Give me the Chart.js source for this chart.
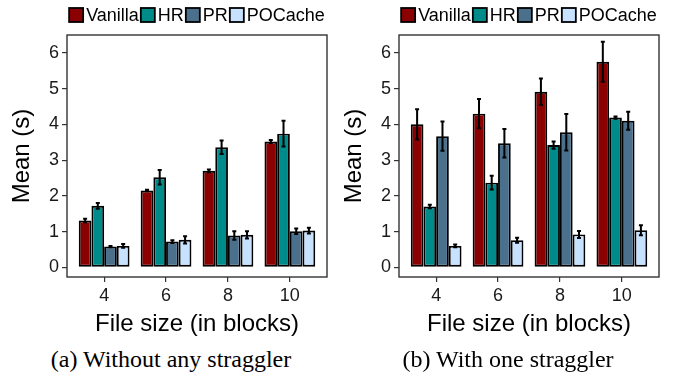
<!DOCTYPE html>
<html>
<head>
<meta charset="utf-8">
<script src="https://cdn.jsdelivr.net/npm/chart.js@4/dist/chart.umd.min.js"></script>
<style>
  html, body { margin: 0; padding: 0; background: #fff; }
  #wrap { position: relative; width: 678px; height: 383px; overflow: hidden; }
  canvas { position: absolute; top: 0; }
  .cap { position: absolute; top: 346px; font-family: "Liberation Serif", "Times New Roman", serif;
         font-size: 24px; color: #000; white-space: nowrap; transform: translateX(-50%); }
</style>
</head>
<body>
<div id="wrap">
  <canvas id="chartA" width="339" height="345" style="left:0"></canvas>
  <canvas id="chartB" width="339" height="345" style="left:332px"></canvas>
  <div class="cap" style="left:171px">(a) Without any straggler</div>
  <div class="cap" style="left:508px">(b) With one straggler</div>
</div>
<script>
const xLabels = ['4', '6', '8', '10'];
const seriesNames = ['Vanilla', 'HR', 'PR', 'POCache'];
const seriesColors = ['#8B0000', '#008B8B', '#4A708B', '#C6E2FF'];
const yTicks = [0, 1, 2, 3, 4, 5, 6];

// (a) without any straggler
const vanillaA = [1.31, 2.15, 2.70, 3.52];
const vanillaErrA = [0.05, 0.02, 0.04, 0.04];
const hrA = [1.72, 2.52, 3.36, 3.74];
const hrErrA = [0.08, 0.20, 0.19, 0.36];
const prA = [0.58, 0.72, 0.89, 1.01];
const prErrA = [0.02, 0.04, 0.12, 0.08];
const poA = [0.60, 0.77, 0.91, 1.03];
const poErrA = [0.05, 0.10, 0.10, 0.08];

// (b) with one straggler
const vanillaB = [4.00, 4.30, 4.91, 5.75];
const vanillaErrB = [0.42, 0.41, 0.37, 0.56];
const hrB = [1.70, 2.37, 3.42, 4.19];
const hrErrB = [0.05, 0.19, 0.10, 0.03];
const prB = [3.67, 3.47, 3.78, 4.10];
const prErrB = [0.41, 0.40, 0.51, 0.25];
const poB = [0.60, 0.76, 0.92, 1.04];
const poErrB = [0.04, 0.07, 0.10, 0.14];

const FONT = '"Liberation Sans", Arial, Helvetica, sans-serif';

const errorBars = {
  id: 'errorBars',
  afterDatasetsDraw(chart) {
    const ctx = chart.ctx;
    const y = chart.scales.y;
    ctx.save();
    ctx.strokeStyle = '#000';
    ctx.lineWidth = 2;
    chart.data.datasets.forEach((ds, d) => {
      chart.getDatasetMeta(d).data.forEach((bar, i) => {
        const v = ds.data[i].y, e = ds.errors[i];
        const top = y.getPixelForValue(v + e), bot = y.getPixelForValue(v - e);
        ctx.beginPath();
        ctx.moveTo(bar.x, top); ctx.lineTo(bar.x, bot);
        ctx.moveTo(bar.x - 2, top); ctx.lineTo(bar.x + 2, top);
        ctx.moveTo(bar.x - 2, bot); ctx.lineTo(bar.x + 2, bot);
        ctx.stroke();
      });
    });
    ctx.restore();
  }
};

const panelBox = {
  id: 'panelBox',
  afterDraw(chart) {
    const { ctx, chartArea: a } = chart;
    ctx.save();
    ctx.strokeStyle = '#333';
    ctx.lineWidth = 1.4;
    ctx.strokeRect(a.left, a.top, a.right - a.left, a.bottom - a.top);
    ctx.restore();
  }
};

const topLegend = {
  id: 'topLegend',
  afterDraw(chart) {
    const { ctx, chartArea: a } = chart;
    ctx.save();
    ctx.font = '18px ' + FONT;
    const box = 14, gapAfterBox = 3, gapAfterText = 2;
    const items = chart.data.datasets.map(ds => ({ ds, w: ctx.measureText(ds.label).width }));
    let total = items.reduce((s, it) => s + box + gapAfterBox + it.w + gapAfterText, 0) - gapAfterText;
    let x = (a.left + a.right) / 2 - total / 2;
    const cy = 15;
    ctx.textBaseline = 'middle';
    items.forEach(it => {
      ctx.fillStyle = it.ds.backgroundColor;
      ctx.fillRect(x, cy - box / 2, box, box);
      ctx.strokeStyle = '#000';
      ctx.lineWidth = 1.8;
      ctx.strokeRect(x, cy - box / 2, box, box);
      x += box + gapAfterBox;
      ctx.fillStyle = '#000';
      ctx.fillText(it.ds.label, x, cy + 1);
      x += it.w + gapAfterText;
    });
    ctx.restore();
  }
};

function makeChart(id, values, errors) {
  const datasets = seriesNames.map((name, s) => ({
    label: name,
    data: values[s].map((v, i) => ({ x: i, y: v })),
    errors: errors[s],
    backgroundColor: seriesColors[s],
    borderColor: '#000',
    borderWidth: 1.9,
    borderSkipped: false,
    categoryPercentage: 0.82,
    barPercentage: 1.0
  }));

  return new Chart(document.getElementById(id), {
    type: 'bar',
    data: { datasets },
    plugins: [errorBars, panelBox, topLegend],
    options: {
      responsive: false,
      animation: false,
      devicePixelRatio: 1,
      layout: { padding: { top: 35, right: 12, left: 0, bottom: 0 } },
      plugins: { legend: { display: false }, tooltip: { enabled: false } },
      scales: {
        x: {
          type: 'linear',
          min: -0.6,
          max: 3.6,
          offset: false,
          afterBuildTicks: scale => { scale.ticks = xLabels.map((_, i) => ({ value: i })); },
          afterFit: scale => { scale.height = 68; },
          ticks: {
            callback: v => xLabels[v],
            font: { family: FONT, size: 18 },
            color: '#1a1a1a',
            padding: 3,
            maxRotation: 0
          },
          grid: { offset: false, drawOnChartArea: false, tickLength: 5, color: '#333', lineWidth: 1.2 },
          border: { display: false },
          title: {
            display: true,
            text: 'File size (in blocks)',
            font: { family: FONT, size: 24 },
            color: '#000',
            padding: { top: 0, bottom: 6 }
          }
        },
        y: {
          min: -0.27,
          max: 6.5,
          afterBuildTicks: scale => { scale.ticks = yTicks.map(v => ({ value: v })); },
          afterFit: scale => { scale.width = 67; },
          ticks: {
            font: { family: FONT, size: 18 },
            color: '#1a1a1a',
            padding: 3
          },
          grid: { drawOnChartArea: false, tickLength: 5, color: '#333', lineWidth: 1.2 },
          border: { display: false },
          title: {
            display: true,
            text: 'Mean (s)',
            font: { family: FONT, size: 24 },
            color: '#000',
            padding: { top: 8, bottom: 0 }
          }
        }
      }
    }
  });
}

makeChart('chartA', [vanillaA, hrA, prA, poA], [vanillaErrA, hrErrA, prErrA, poErrA]);
makeChart('chartB', [vanillaB, hrB, prB, poB], [vanillaErrB, hrErrB, prErrB, poErrB]);
</script>
</body>
</html>
